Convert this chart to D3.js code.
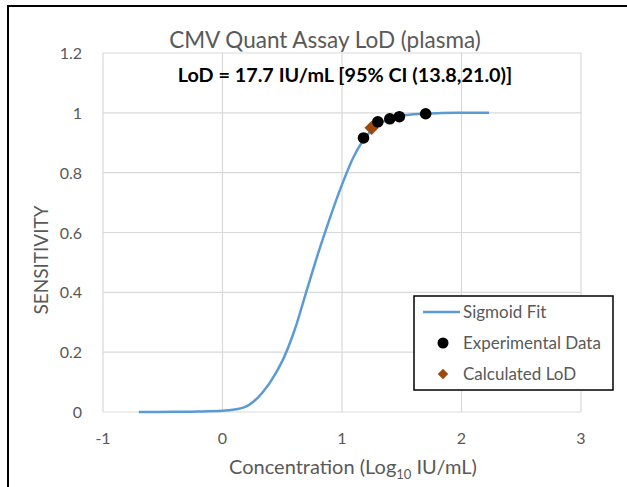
<!DOCTYPE html>
<html>
<head>
<meta charset="utf-8">
<script src="https://cdn.jsdelivr.net/npm/d3@7"></script>
<style>
  body { margin: 0; background: #fff; }
  text { font-family: Lato, "Open Sans", sans-serif; }
</style>
</head>
<body>
<script>
const width = 627;
const height = 487;

// sigmoid fit
const fitX = [-0.7, -0.4, -0.2, 0, 0.1, 0.15, 0.2, 0.25, 0.3, 0.35, 0.4, 0.5, 0.6, 0.7, 0.8, 0.9, 1.0, 1.1, 1.2, 1.3, 1.4, 1.5, 1.6, 1.8, 2.0, 2.23];
const fitY = [0, 0.0005, 0.0015, 0.004, 0.008, 0.012, 0.019, 0.032, 0.05, 0.073, 0.1, 0.17, 0.27, 0.4, 0.53, 0.65, 0.76, 0.855, 0.92, 0.96, 0.98, 0.99, 0.995, 0.999, 1, 1];

// experimental data
const expX = [1.18, 1.30, 1.40, 1.48, 1.70];
const expY = [0.916, 0.970, 0.980, 0.987, 0.997];

// calculated LoD
const lodX = [1.248];
const lodY = [0.95];

const xTicks = [-1, 0, 1, 2, 3];
const yTicks = [0, 0.2, 0.4, 0.6, 0.8, 1, 1.2];

const svg = d3.select("body").append("svg")
  .attr("width", width)
  .attr("height", height);

// outer frame
svg.append("path")
  .attr("d", "M8,490 L8,6 L630,6")
  .attr("fill", "none")
  .attr("stroke", "#000")
  .attr("stroke-width", 2);

const x = d3.scaleLinear().domain([-1, 3]).range([103, 581]);
const y = d3.scaleLinear().domain([0, 1.2]).range([412, 53]);

const grey = "#595959";

// grid
svg.append("g").selectAll("line.v")
  .data(xTicks).enter().append("line")
  .attr("x1", d => x(d)).attr("x2", d => x(d))
  .attr("y1", y(0)).attr("y2", y(1.2))
  .attr("stroke", "#d9d9d9").attr("stroke-width", 1.2);
svg.append("g").selectAll("line.h")
  .data(yTicks).enter().append("line")
  .attr("x1", x(-1)).attr("x2", x(3))
  .attr("y1", d => y(d)).attr("y2", d => y(d))
  .attr("stroke", "#d9d9d9").attr("stroke-width", 1.2);

// tick labels
svg.append("g").selectAll("text")
  .data(xTicks).enter().append("text")
  .attr("x", d => x(d)).attr("y", 444)
  .attr("text-anchor", "middle")
  .attr("font-size", 16).attr("fill", grey)
  .text(d => d);
svg.append("g").selectAll("text")
  .data(yTicks).enter().append("text")
  .attr("x", 82).attr("y", d => y(d) + 6)
  .attr("text-anchor", "end")
  .attr("font-size", 16).attr("fill", grey)
  .text(d => d);

// titles
svg.append("text")
  .attr("x", 325).attr("y", 48)
  .attr("text-anchor", "middle")
  .attr("font-size", 22.5).attr("fill", grey)
  .text("CMV Quant Assay LoD (plasma)");

svg.append("text")
  .attr("x", 345).attr("y", 82)
  .attr("text-anchor", "middle")
  .attr("font-size", 19.8).attr("font-weight", "bold").attr("fill", "#000")
  .text("LoD = 17.7 IU/mL [95% CI (13.8,21.0)]");

const xt = svg.append("text")
  .attr("x", 353).attr("y", 474)
  .attr("text-anchor", "middle")
  .attr("font-size", 20).attr("fill", grey);
xt.append("tspan").text("Concentration (Log");
xt.append("tspan").attr("font-size", 13).attr("dy", 5).text("10");
xt.append("tspan").attr("dy", -5).text(" IU/mL)");

svg.append("text")
  .attr("transform", "translate(48,260) rotate(-90)")
  .attr("text-anchor", "middle")
  .attr("font-size", 19).attr("fill", grey)
  .text("SENSITIVITY");

// sigmoid fit
const fit = fitX.map((d, i) => [d, fitY[i]]);
svg.append("path")
  .datum(fit)
  .attr("fill", "none")
  .attr("stroke", "#5b9bd5")
  .attr("stroke-width", 2.5)
  .attr("d", d3.line().x(d => x(d[0])).y(d => y(d[1])).curve(d3.curveCatmullRom));

// calculated LoD
svg.append("g").selectAll("path")
  .data(lodX).enter().append("path")
  .attr("d", d3.symbol().type(d3.symbolDiamond2).size(130))
  .attr("transform", (d, i) => "translate(" + x(d) + "," + y(lodY[i]) + ")")
  .attr("fill", "#9e480e");

// experimental data
svg.append("g").selectAll("circle")
  .data(expX).enter().append("circle")
  .attr("cx", d => x(d))
  .attr("cy", (d, i) => y(expY[i]))
  .attr("r", 5.8)
  .attr("fill", "#000");

// legend
const lg = svg.append("g");
lg.append("rect")
  .attr("x", 414).attr("y", 296)
  .attr("width", 199).attr("height", 94)
  .attr("fill", "#fff").attr("stroke", "#000").attr("stroke-width", 1.5);
lg.append("line")
  .attr("x1", 423).attr("x2", 460).attr("y1", 312).attr("y2", 312)
  .attr("stroke", "#5b9bd5").attr("stroke-width", 2.5);
lg.append("circle").attr("cx", 443).attr("cy", 343).attr("r", 5.5).attr("fill", "#000");
lg.append("path")
  .attr("d", d3.symbol().type(d3.symbolDiamond2).size(70))
  .attr("transform", "translate(443,374)")
  .attr("fill", "#9e480e");
const legendLabels = ["Sigmoid Fit", "Experimental Data", "Calculated LoD"];
lg.selectAll("text")
  .data(legendLabels).enter().append("text")
  .attr("x", 463).attr("y", (d, i) => 318 + i * 31)
  .attr("font-size", 17).attr("fill", grey)
  .text(d => d);
</script>
</body>
</html>
